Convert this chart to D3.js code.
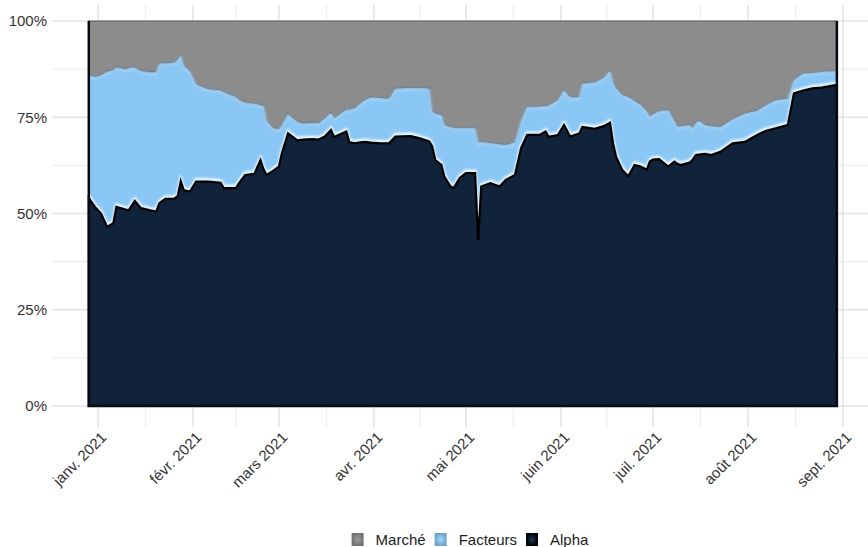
<!DOCTYPE html>
<html>
<head>
<meta charset="utf-8">
<script src="https://cdn.jsdelivr.net/npm/d3@7"></script>
<style>
  body { margin: 0; background: #fff; }
  svg { display: block; font-family: "Liberation Sans", Arial, sans-serif; }
</style>
</head>
<body>
<div id="chart"></div>
<script>
// jours de la série (données reprises du graphique)
const dates = [
  "2020-12-29","2020-12-31","2021-01-02","2021-01-04","2021-01-06","2021-01-07","2021-01-10","2021-01-11",
  "2021-01-13","2021-01-15","2021-01-18","2021-01-20","2021-01-21","2021-01-23","2021-01-26","2021-01-27",
  "2021-01-28","2021-01-29","2021-01-31","2021-02-02","2021-02-06","2021-02-10","2021-02-11","2021-02-15",
  "2021-02-16","2021-02-18","2021-02-21","2021-02-23","2021-02-24","2021-02-25","2021-02-27","2021-03-01",
  "2021-03-02","2021-03-04","2021-03-07","2021-03-09","2021-03-12","2021-03-14","2021-03-16","2021-03-18",
  "2021-03-19","2021-03-23","2021-03-24","2021-03-26","2021-03-27","2021-03-29","2021-03-31","2021-04-03",
  "2021-04-06","2021-04-08","2021-04-13","2021-04-16","2021-04-19","2021-04-20","2021-04-21","2021-04-23",
  "2021-04-24","2021-04-26","2021-04-27","2021-04-29","2021-05-01","2021-05-03","2021-05-04","2021-05-05",
  "2021-05-06","2021-05-09","2021-05-12","2021-05-14","2021-05-17","2021-05-19","2021-05-21","2021-05-25",
  "2021-05-27","2021-05-28","2021-05-31","2021-06-02","2021-06-04","2021-06-07","2021-06-08","2021-06-12",
  "2021-06-15","2021-06-17","2021-06-18","2021-06-19","2021-06-21","2021-06-23","2021-06-25","2021-06-27",
  "2021-06-29","2021-06-30","2021-07-01","2021-07-03","2021-07-06","2021-07-08","2021-07-09","2021-07-10",
  "2021-07-13","2021-07-14","2021-07-15","2021-07-16","2021-07-18","2021-07-20","2021-07-23","2021-07-27",
  "2021-07-31","2021-08-04","2021-08-07","2021-08-10","2021-08-14","2021-08-16","2021-08-19","2021-08-22",
  "2021-08-25","2021-08-30"
];

// part de chaque composante, en %
const alpha = [
  54, 51.7, 50, 46.5, 47.5, 51.7, 51, 50.8,
  53.3, 51.4, 50.8, 50.5, 52.7, 53.8, 53.9, 54.5,
  58.4, 56, 55.7, 58.3, 58.3, 58, 56.6, 56.6,
  57.9, 60, 60.3, 63.9, 61.5, 60, 61, 62.2,
  65.7, 70.8, 69, 69.2, 69.3, 69.2, 70, 71.7,
  69.9, 71.3, 68.5, 68.2, 68.4, 68.6, 68.4, 68.2,
  68.3, 70, 70.1, 69.5, 68.7, 67.5, 63.9, 62.6,
  59.5, 57, 56.6, 59.2, 60.5, 60.5, 60.5, 43,
  57, 57.9, 57, 58.7, 60, 67, 70.4, 70.4,
  71.3, 69.9, 70.4, 73, 70, 70.8, 72.5, 72,
  72.7, 73.6, 68.2, 64.7, 61.3, 59.7, 62.6, 62.2,
  61.4, 63.5, 64, 64.1, 62.2, 63.5, 62.9, 62.6,
  63.2, 64, 65.2, 65.3, 65.5, 65.2, 66, 68.2,
  68.6, 70.4, 71.5, 72.1, 73, 81.2, 81.9, 82.5,
  82.7, 83.4
];
const facteurs = [
  32, 33.8, 36, 40.3, 39.8, 36.3, 36.5, 37,
  34.7, 35.6, 35.9, 36.2, 36.3, 35.2, 35.3, 35.5,
  32.6, 32.3, 31.3, 25.2, 24, 24, 24.9, 23.7,
  21.6, 18.8, 18.2, 14.3, 16.5, 14, 11.3, 9.7,
  7.3, 5, 4.8, 4.2, 4.2, 4.3, 4.7, 4.5,
  4.8, 5.7, 8.5, 9.3, 9.8, 10.9, 11.8, 11.8,
  11.5, 12.5, 12.5, 13.1, 13.8, 8.9, 12.1, 13,
  13.5, 15.4, 15.7, 13, 11.7, 11.7, 11.7, 25.3,
  11.6, 10.4, 11, 9.1, 8.5, 7, 7.3, 7.4,
  6.6, 8.1, 9.1, 9, 10.2, 9.4, 11.3, 12,
  12.6, 13.5, 15.8, 17.8, 19.5, 20.6, 16.6, 16.1,
  15.1, 11.6, 11.8, 12.5, 14.7, 10.5, 9.6, 10.1,
  9.8, 8.2, 8.3, 8.8, 7.5, 7.5, 6.5, 6.3,
  7.4, 6.3, 6.7, 7.4, 6.8, 3.5, 4.5, 4,
  4.1, 3.6
];
const marche = [
  14, 14.5, 14, 13.2, 12.7, 12, 12.5, 12.2,
  12, 13, 13.3, 13.3, 11, 11, 10.8, 10,
  9, 11.7, 13, 16.5, 17.7, 18, 18.5, 19.7,
  20.5, 21.2, 21.5, 21.8, 22, 26, 27.7, 28.1,
  27, 24.2, 26.2, 26.6, 26.5, 26.5, 25.3, 23.8,
  25.3, 23, 23, 22.5, 21.8, 20.5, 19.8, 20,
  20.2, 17.5, 17.4, 17.4, 17.5, 23.6, 24, 24.4,
  27, 27.6, 27.7, 27.8, 27.8, 27.8, 27.8, 31.7,
  31.4, 31.7, 32, 32.2, 31.5, 26, 22.3, 22.2,
  22.1, 22, 20.5, 18, 19.8, 19.8, 16.2, 16,
  14.7, 12.9, 16, 17.5, 19.2, 19.7, 20.8, 21.7,
  23.5, 24.9, 24.2, 23.4, 23.1, 26, 27.5, 27.3,
  27, 27.8, 26.5, 25.9, 27, 27.3, 27.5, 25.5,
  24, 23.3, 21.8, 20.5, 20.2, 15.3, 13.6, 13.5,
  13.2, 13
];

const keys = ["alpha", "facteurs", "marche"];
const labels = { marche: "Marché", facteurs: "Facteurs", alpha: "Alpha" };
const colors = { marche: "#8c8c8c", facteurs: "#8bc7f5", alpha: "#11233a" };
const legendOrder = ["marche", "facteurs", "alpha"];
const yTicks = [0, 25, 50, 75, 100];
const yMinor = [12.5, 37.5, 62.5, 87.5];
const monthFmt = ["janv.", "févr.", "mars", "avr.", "mai", "juin", "juil.", "août", "sept."];

const width = 868, height = 547;
const panel = { left: 52, right: 868, top: 5, bottom: 427 };

const parse = d3.timeParse("%Y-%m-%d");
const rows = dates.map((d, i) => ({
  date: parse(d), alpha: alpha[i], facteurs: facteurs[i], marche: marche[i]
}));

const x = d3.scaleTime()
  .domain([new Date(2021, 0, 1), new Date(2021, 8, 1)])
  .range([98, 843]);
const y = d3.scaleLinear().domain([0, 100]).range([406, 21]);

const svg = d3.select("#chart").append("svg")
  .attr("width", width).attr("height", height);

const defs = svg.append("defs");
const glow = defs.append("filter").attr("id", "glow")
  .attr("x", "-5%").attr("y", "-20%").attr("width", "110%").attr("height", "140%");
glow.append("feGaussianBlur").attr("stdDeviation", 1.1);
const shade = defs.append("filter").attr("id", "shade")
  .attr("x", "-5%").attr("y", "-20%").attr("width", "110%").attr("height", "140%");
shade.append("feGaussianBlur").attr("stdDeviation", 0.8);

// legend gradients
legendOrder.forEach(k => {
  const g = defs.append("radialGradient").attr("id", "lg-" + k);
  g.append("stop").attr("offset", "0%").attr("stop-color", k === "alpha" ? "#1c3a5c" : d3.color(colors[k]).brighter(0.3));
  g.append("stop").attr("offset", "100%").attr("stop-color", k === "alpha" ? "#000" : d3.color(colors[k]).darker(0.6));
});

// grille
const grid = svg.append("g");
const months = x.ticks(d3.timeMonth.every(1));
const midMonths = months.slice(0, -1).map((m, i) => new Date((+m + +months[i + 1]) / 2));
grid.selectAll(".vminor").data(midMonths).join("line")
  .attr("x1", d => x(d)).attr("x2", d => x(d))
  .attr("y1", panel.top).attr("y2", panel.bottom)
  .attr("stroke", "#efefef").attr("stroke-width", 1.2);
grid.selectAll(".vmajor").data(months).join("line")
  .attr("x1", d => x(d)).attr("x2", d => x(d))
  .attr("y1", panel.top).attr("y2", panel.bottom)
  .attr("stroke", "#e3e3e3").attr("stroke-width", 1.5);
grid.selectAll(".hminor").data(yMinor).join("line")
  .attr("x1", panel.left).attr("x2", panel.right)
  .attr("y1", d => y(d)).attr("y2", d => y(d))
  .attr("stroke", "#efefef").attr("stroke-width", 1.2);
grid.selectAll(".hmajor").data(yTicks).join("line")
  .attr("x1", panel.left).attr("x2", panel.right)
  .attr("y1", d => y(d)).attr("y2", d => y(d))
  .attr("stroke", "#e3e3e3").attr("stroke-width", 1.5);

// aires empilées
const series = d3.stack().keys(keys)(rows);
const area = d3.area()
  .x(d => x(d.data.date))
  .y0(d => y(d[0]))
  .y1(d => y(d[1]));
const topLine = d3.line()
  .x(d => x(d.data.date))
  .y(d => y(d[1]));

const plot = svg.append("g");
plot.selectAll(".layer").data(series.slice().reverse()).join("path")
  .attr("d", area)
  .attr("fill", d => colors[d.key])
  .attr("stroke", d => d.key === "marche" ? "#5a5a5a" : "none")
  .attr("stroke-width", 1.2);

// ombre sous le bord gris / bleu
plot.append("path")
  .attr("d", topLine(series[1]))
  .attr("fill", "none").attr("stroke", "#6a7f93").attr("stroke-width", 1.2)
  .attr("filter", "url(#shade)");
plot.append("path")
  .attr("d", topLine(series[1]))
  .attr("transform", "translate(0,1.5)")
  .attr("fill", "none").attr("stroke", "#b4defc").attr("stroke-width", 1.5)
  .attr("filter", "url(#shade)");

// reflet clair au-dessus de l'alpha
plot.append("path")
  .attr("d", topLine(series[0]))
  .attr("transform", "translate(0,-2)")
  .attr("fill", "none").attr("stroke", "#f2fbff").attr("stroke-width", 3)
  .attr("filter", "url(#glow)");

plot.append("path")
  .attr("d", area(series[0]))
  .attr("fill", colors.alpha)
  .attr("stroke", "#000").attr("stroke-width", 2.2);

// cadre sombre
const x0 = x(rows[0].date), x1 = x(rows[rows.length - 1].date);
plot.append("path")
  .attr("d", `M${x0},${y(100)}V${y(0)}H${x1}V${y(100)}`)
  .attr("fill", "none").attr("stroke", "#060b12").attr("stroke-width", 2.5);

// axes
const yAxis = svg.append("g");
yAxis.selectAll("text").data(yTicks).join("text")
  .attr("x", 47).attr("y", d => y(d)).attr("dy", "0.36em")
  .attr("text-anchor", "end")
  .attr("font-size", 15).attr("fill", "#333")
  .text(d => d + "%");

const xAxis = svg.append("g");
xAxis.selectAll("text").data(months).join("text")
  .attr("text-anchor", "end")
  .attr("font-size", 15).attr("fill", "#333")
  .attr("transform", d => `translate(${x(d) + 2},${431}) rotate(-45)`)
  .attr("dy", "0.7em")
  .text(d => monthFmt[d.getMonth()] + " " + d.getFullYear());

// légende
const legend = svg.append("g");
let lx = 0;
const items = legendOrder.map(k => {
  const g = legend.append("g").attr("transform", `translate(${lx},0)`);
  g.append("rect").attr("x", 0).attr("y", -12).attr("width", 12).attr("height", 13)
    .attr("fill", `url(#lg-${k})`);
  const t = g.append("text").attr("x", 24).attr("y", 0)
    .attr("font-size", 15).attr("fill", "#222").text(labels[k]);
  const w = t.node().getComputedTextLength();
  lx += 24 + w + 9;
  return g;
});
const legendWidth = lx - 9;
legend.attr("transform", `translate(${470 - legendWidth / 2},545)`);
</script>
</body>
</html>
